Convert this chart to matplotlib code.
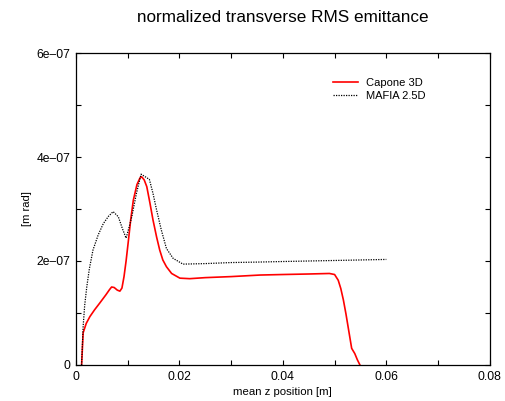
import numpy as np
import matplotlib
matplotlib.use("Agg")
import matplotlib.pyplot as plt
from matplotlib.ticker import MultipleLocator

plt.rcParams['font.family'] = ['Liberation Sans', 'DejaVu Sans']

# Capone 3D (red)
capone_z = [0.0011, 0.0014, 0.0020, 0.0027, 0.0036, 0.0046, 0.0058, 0.0065, 0.0069, 0.0074,
            0.0080, 0.0085, 0.0089, 0.0093, 0.0097, 0.0101, 0.0106, 0.0111, 0.0118, 0.0124,
            0.0127, 0.0132, 0.0137, 0.0143, 0.0149, 0.0156, 0.0162, 0.0168, 0.0175, 0.0185,
            0.0201, 0.0220, 0.0250, 0.0300, 0.0356, 0.0400, 0.0450, 0.0490, 0.0500, 0.0507,
            0.0512, 0.0517, 0.0522, 0.0526, 0.0530, 0.0533, 0.0539, 0.0544, 0.0549]
capone_e = [0.0, 0.62, 0.80, 0.93, 1.06, 1.19, 1.35, 1.45, 1.50, 1.49,
            1.44, 1.42, 1.48, 1.70, 2.00, 2.35, 2.80, 3.17, 3.47, 3.60,
            3.62, 3.56, 3.43, 3.12, 2.79, 2.46, 2.21, 2.02, 1.89, 1.76,
            1.67, 1.66, 1.68, 1.70, 1.73, 1.74, 1.75, 1.76, 1.74, 1.63,
            1.47, 1.25, 0.98, 0.74, 0.50, 0.32, 0.22, 0.10, 0.0]

# MAFIA 2.5D (black dotted)
mafia_z = [0.0011, 0.0014, 0.0017, 0.0021, 0.0026, 0.0033, 0.0043, 0.0053, 0.0063, 0.0072,
           0.0082, 0.0090, 0.0097, 0.0102, 0.0108, 0.0117, 0.0126, 0.0142, 0.0149, 0.0156,
           0.0165, 0.0175, 0.0188, 0.0207, 0.0250, 0.0300, 0.0356, 0.0400, 0.0500, 0.0600]
mafia_e = [0.0, 0.74, 1.15, 1.50, 1.85, 2.21, 2.50, 2.72, 2.86, 2.95,
           2.85, 2.62, 2.44, 2.62, 2.85, 3.30, 3.67, 3.57, 3.30, 2.98,
           2.60, 2.24, 2.05, 1.94, 1.95, 1.97, 1.98, 1.99, 2.01, 2.03]

capone_e = np.array(capone_e) * 1e-7
mafia_e = np.array(mafia_e) * 1e-7

fig = plt.figure(figsize=(5.06, 4.01), dpi=100)
ax = fig.add_axes([0.150, 0.0898, 0.818, 0.778])

ax.plot(capone_z, capone_e, color='#ff0000', lw=1.2, label='Capone 3D')
ax.plot(mafia_z, mafia_e, color='black', lw=0.9, ls=(0, (1, 1)), label='MAFIA 2.5D')

ax.set_xlim(0, 0.08)
ax.set_ylim(0, 6e-7)
ax.set_xticks([0, 0.02, 0.04, 0.06, 0.08])
ax.set_xticklabels(['0', '0.02', '0.04', '0.06', '0.08'])
ax.set_yticks([0, 2e-7, 4e-7, 6e-7])
ax.set_yticklabels(['0', '2e\u201307', '4e\u201307', '6e\u201307'])
ax.xaxis.set_minor_locator(MultipleLocator(0.01))
ax.yaxis.set_minor_locator(MultipleLocator(1e-7))
ax.tick_params(which='both', direction='in', top=True, right=True, length=3.5,
               width=0.8, labelsize=8.7, pad=4)
for s in ax.spines.values():
    s.set_linewidth(0.9)

ax.set_xlabel('mean z position [m]', fontsize=8.2, labelpad=3)
ax.set_ylabel('[m rad]', fontsize=8, labelpad=3)
ax.set_title('normalized transverse RMS emittance', fontsize=12.3, pad=22)

ax.legend(loc='upper right', bbox_to_anchor=(0.856, 0.935), frameon=False, fontsize=8,
          handlelength=2.3, handletextpad=0.7, labelspacing=0.3, borderaxespad=0)

fig.savefig('out.png', dpi=100)
